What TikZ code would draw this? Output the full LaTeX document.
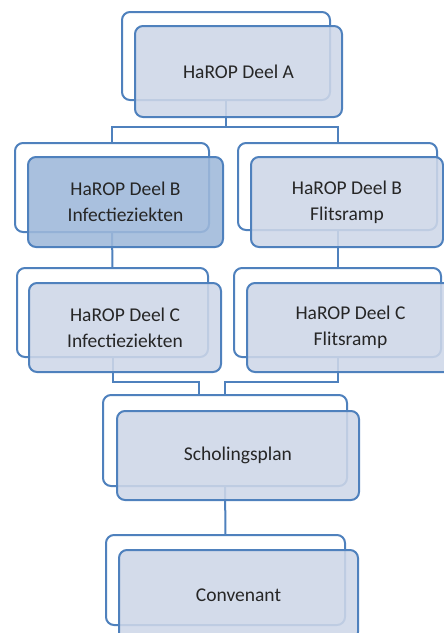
\documentclass[tikz,border=0pt]{standalone}
\usepackage{fontspec}
\setmainfont{Carlito}
\usetikzlibrary{calc}
\definecolor{lineblue}{RGB}{79,129,189}
\definecolor{frontfill}{RGB}{206,215,232}
\definecolor{darkfill}{RGB}{158,184,218}
\begin{document}
\begin{tikzpicture}[x=1pt,y=-1pt,
  backbox/.style={draw=lineblue, line width=2pt, fill=white, rounded corners=8pt, inner sep=0pt, outer sep=0pt},
  frontbox/.style={draw=lineblue, line width=2pt, fill=frontfill, fill opacity=0.88, text opacity=1, rounded corners=8pt, inner sep=0pt, outer sep=0pt, align=center, font=\fontsize{19.5}{26}\selectfont, text=black!85},
  conn/.style={draw=lineblue, line width=2pt}]
\useasboundingbox (0,0) rectangle (444,633);
\clip (0,0) rectangle (444,633);
% back boxes
\node[backbox, minimum width=208pt, minimum height=88pt] (aback) at (226,56) {};
\node[backbox, minimum width=194pt, minimum height=89pt] (blback) at (112,187.5) {};
\node[backbox, minimum width=199pt, minimum height=87pt] (brback) at (337.5,186.5) {};
\node[backbox, minimum width=191pt, minimum height=89pt] (clback) at (112.5,312.5) {};
\node[backbox, minimum width=207pt, minimum height=89pt] (crback) at (337.5,312.5) {};
\node[backbox, minimum width=244pt, minimum height=91pt] (sback) at (225,440.5) {};
\node[backbox, minimum width=239pt, minimum height=90pt] (cback) at (225.5,580) {};
% connectors
\draw[conn] (aback.south) -- ++(0,27) coordinate (ja) -| (blback.north);
\draw[conn] (ja) -| (brback.north);
\draw[conn] (blback.south) -- (clback.north);
\draw[conn] (brback.south) -- (crback.north);
\coordinate (sl) at ($(sback.north)+(-26,0)$);
\draw[conn] (clback.south) -- ++(0,25) -| (sl);
\draw[conn] (crback.south) -- ++(0,25) -| (sback.north);
\draw[conn] (sback.south) -- (cback.north);
% front boxes
\node[frontbox, minimum width=207pt, minimum height=91pt] (afront) at (238.5,71.5) {HaROP Deel A};
\node[frontbox, fill=darkfill, minimum width=195pt, minimum height=90pt] (blfront) at (125.5,202) {HaROP Deel B\\Infectieziekten};
\node[frontbox, minimum width=192pt, minimum height=90pt] (brfront) at (347,202) {HaROP Deel B\\Flitsramp};
\node[frontbox, minimum width=192pt, minimum height=89pt] (clfront) at (125,327.5) {HaROP Deel C\\Infectieziekten};
\node[frontbox, minimum width=207pt, minimum height=89pt] (crfront) at (350.5,327.5) {HaROP Deel C\\Flitsramp};
\node[frontbox, minimum width=242pt, minimum height=89pt] (sfront) at (238,455.5) {Scholingsplan};
\node[frontbox, minimum width=239pt, minimum height=90pt] (cfront) at (238.5,595) {Convenant};
\end{tikzpicture}
\end{document}
